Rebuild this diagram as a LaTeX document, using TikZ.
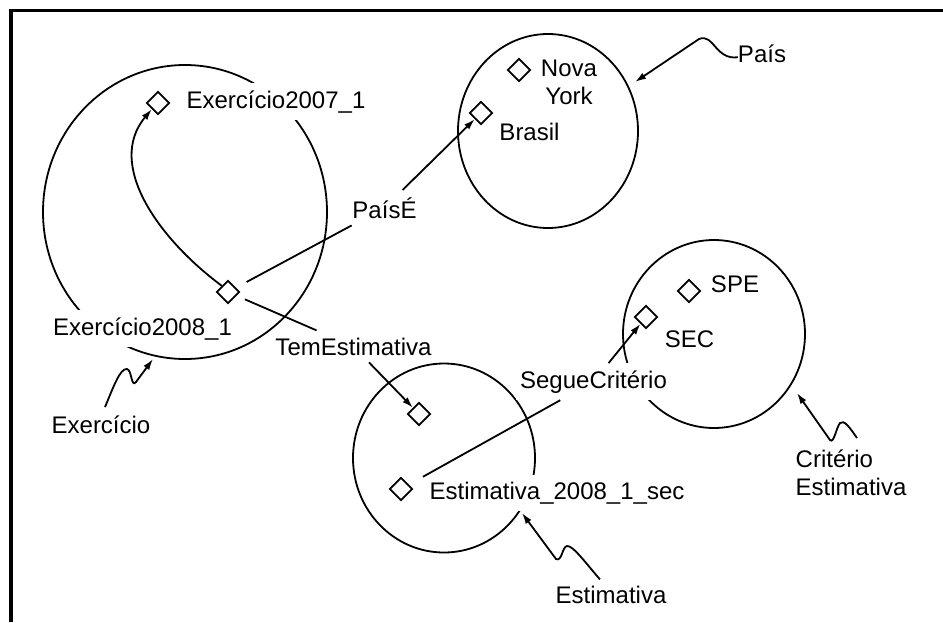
\documentclass[tikz,border=0pt]{standalone}
\usepackage{fontspec}
\setmainfont{Liberation Sans}
\usetikzlibrary{shapes.geometric,arrows.meta}
\begin{document}
\begin{tikzpicture}[x=1pt,y=-1pt,
  lbl/.style={font=\fontsize{24}{28}\selectfont, inner sep=0pt, anchor=base},
  cut/.style={lbl, fill=white, inner xsep=4pt, inner ysep=7pt},
  inst/.style={draw, diamond, minimum size=23pt, inner sep=0pt, line width=1.8pt},
  ring/.style={line width=1.8pt},
  link/.style={line width=1.8pt},
  tip/.style={-{Latex[length=11pt,width=7pt]}},
]
\useasboundingbox (0,0) rectangle (943,622);
% frame (top and left edges)
\draw[line width=3.5pt] (11,622) -- (11,10.5) -- (943,10.5);

% class extents
\draw[ring] (185,212) ellipse [x radius=142pt, y radius=147pt];
\draw[ring] (548,131) ellipse [x radius=90pt, y radius=97pt];
\draw[ring] (714,334) ellipse [x radius=91pt, y radius=94pt];
\draw[ring] (444,458) ellipse [x radius=91pt, y radius=94.5pt];

% labels
\node[cut] (ex2007) at (276,108) {Exercício2007\_1};
\node[lbl, anchor=north, align=center] (ny) at (569,59.8) {Nova\\York};
\node[lbl] (brasil) at (529.5,140) {Brasil};
\node[lbl] (pais) at (762,62) {País};
\node[cut] (paisE) at (384.5,218) {PaísÉ};
\node[cut] (ex2008) at (142.5,335) {Exercício2008\_1};
\node[cut] (temEst) at (353.5,355) {TemEstimativa};
\node[lbl] (exercicio) at (101,433) {Exercício};
\node[cut] (segue) at (593.5,388) {SegueCritério};
\node[lbl] (spe) at (735,292) {SPE};
\node[lbl] (sec) at (689.5,347) {SEC};
\node[lbl, anchor=north west, align=left] (critEst) at (795.5,450) {Critério\\Estimativa};
\node[cut] (est2008) at (557,499) {Estimativa\_2008\_1\_sec};
\node[lbl] (estimativa) at (611,603) {Estimativa};

% instances
\node[inst] (d2007) at (158,103) {};
\node[inst] (dNY) at (519,70) {};
\node[inst] (dBR) at (481,113) {};
\node[inst] (d2008) at (228,292) {};
\node[inst] (dSPE) at (689,291) {};
\node[inst] (dSEC) at (646,317) {};
\node[inst] (dTem) at (419,414) {};
\node[inst] (dEst) at (401,489) {};

% properties
\draw[link, tip] (d2008.north west) .. controls (160,240) and (105,165) .. (d2007.south west);
\draw[link, shorten <=12pt] (d2008) -- (paisE);
\draw[link, tip] (paisE) -- (dBR);
\draw[link, shorten <=9pt] (d2008) -- (temEst);
\draw[link, tip] (temEst) -- (dTem);
\draw[link, shorten <=16pt] (dEst) -- (segue);
\draw[link, tip] (segue) -- (dSEC);

% class name pointers
\coordinate (paisTip) at (635,82);
\coordinate (exTip) at (153,359);
\coordinate (critTip) at (797,393);
\coordinate (estTip) at (522,513);
\draw[link, tip] ([yshift=-4pt]pais.west) .. controls (715,60) and (714,33) .. (699,39) -- (paisTip);
\draw[link, tip] ([xshift=4pt,yshift=8pt]exercicio.north) .. controls (113,388) and (120,368) .. (127,369)
  .. controls (132,370) and (131,388) .. (136,382) -- (exTip);
\draw[link, tip] ([xshift=61.5pt,yshift=12pt]critEst.north west) .. controls (850,428) and (844,419) .. (840,423)
  .. controls (836,428) and (834,444) .. (830,440) -- (critTip);
\draw[link, tip] ([xshift=-11pt,yshift=6pt]estimativa.north) .. controls (588,566) and (573,545) .. (567,546)
  .. controls (562,547) and (562,562) .. (556,559) -- (estTip);
\end{tikzpicture}
\end{document}
